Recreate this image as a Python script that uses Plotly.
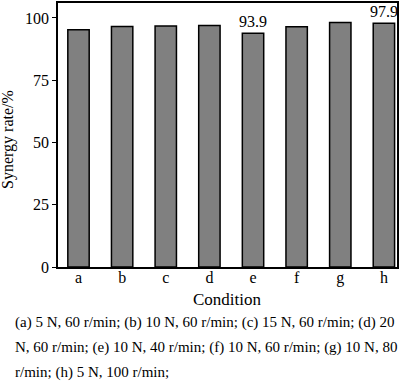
import plotly.graph_objects as go

categories = ["a", "b", "c", "d", "e", "f", "g", "h"]
synergy_rate = [95.3, 96.6, 96.8, 97.0, 93.9, 96.5, 98.2, 97.9]
bar_labels = ["", "", "", "", "93.9", "", "", "97.9"]
y_ticks = [0, 25, 50, 75, 100]
caption_lines = [
    "(a) 5 N, 60 r/min; (b) 10 N, 60 r/min; (c) 15 N, 60 r/min; (d) 20",
    "N, 60 r/min; (e) 10 N, 40 r/min; (f) 10 N, 60 r/min; (g) 10 N, 80",
    "r/min; (h) 5 N, 100 r/min;",
]

FONT = "Liberation Serif, Times New Roman, serif"

fig = go.Figure(
    go.Bar(
        x=list(range(len(categories))),
        y=synergy_rate,
        text=bar_labels,
        textposition="outside",
        constraintext="none",
        cliponaxis=False,
        textfont=dict(family=FONT, size=16, color="black"),
        marker=dict(color="#808080", line=dict(color="black", width=1.5)),
        width=0.49,
    )
)

W, H = 400, 387
ml, mr, mt, mb = 58, 3, 1, 120
ph = H - mt - mb

fig.update_layout(
    width=W,
    height=H,
    margin=dict(l=ml, r=mr, t=mt, b=mb),
    plot_bgcolor="white",
    paper_bgcolor="white",
    showlegend=False,
    font=dict(family=FONT, size=16, color="black"),
    xaxis=dict(
        tickmode="array",
        tickvals=list(range(len(categories))),
        ticktext=categories,
        range=[-0.47, 7.3],
        showline=True,
        linecolor="black",
        linewidth=1.5,
        mirror=True,
        ticks="",
        ticklabelstandoff=-5,
        showgrid=False,
        zeroline=False,
        tickfont=dict(family=FONT, size=16),
    ),
    yaxis=dict(
        tickmode="array",
        tickvals=y_ticks,
        range=[0, 106],
        showline=True,
        linecolor="black",
        linewidth=1.5,
        mirror=True,
        ticks="outside",
        ticklen=4,
        tickwidth=1.2,
        tickcolor="black",
        showgrid=False,
        zeroline=False,
        tickfont=dict(family=FONT, size=16),
    ),
)

def py(ypix):
    return (H - mb - ypix) / ph

annotations = [
    dict(text="Condition", x=0.5, xref="paper", y=py(300), yref="paper",
         xanchor="center", yanchor="middle", showarrow=False,
         font=dict(family=FONT, size=17)),
    dict(text="Synergy rate/%", x=(8 - ml) / (W - ml - mr), xref="paper",
         y=py(139), yref="paper", textangle=-90,
         xanchor="center", yanchor="middle", showarrow=False,
         font=dict(family=FONT, size=16)),
]
for i, line in enumerate(caption_lines):
    annotations.append(dict(
        text=line, x=(13 - ml) / (W - ml - mr), xref="paper",
        y=py(323 + 25 * i), yref="paper",
        xanchor="left", yanchor="middle", showarrow=False,
        font=dict(family=FONT, size=15),
    ))
fig.update_layout(annotations=annotations)

fig.write_html(
    "out.html",
    config={"displayModeBar": False},
    post_script="document.body.style.margin='0';",
)
